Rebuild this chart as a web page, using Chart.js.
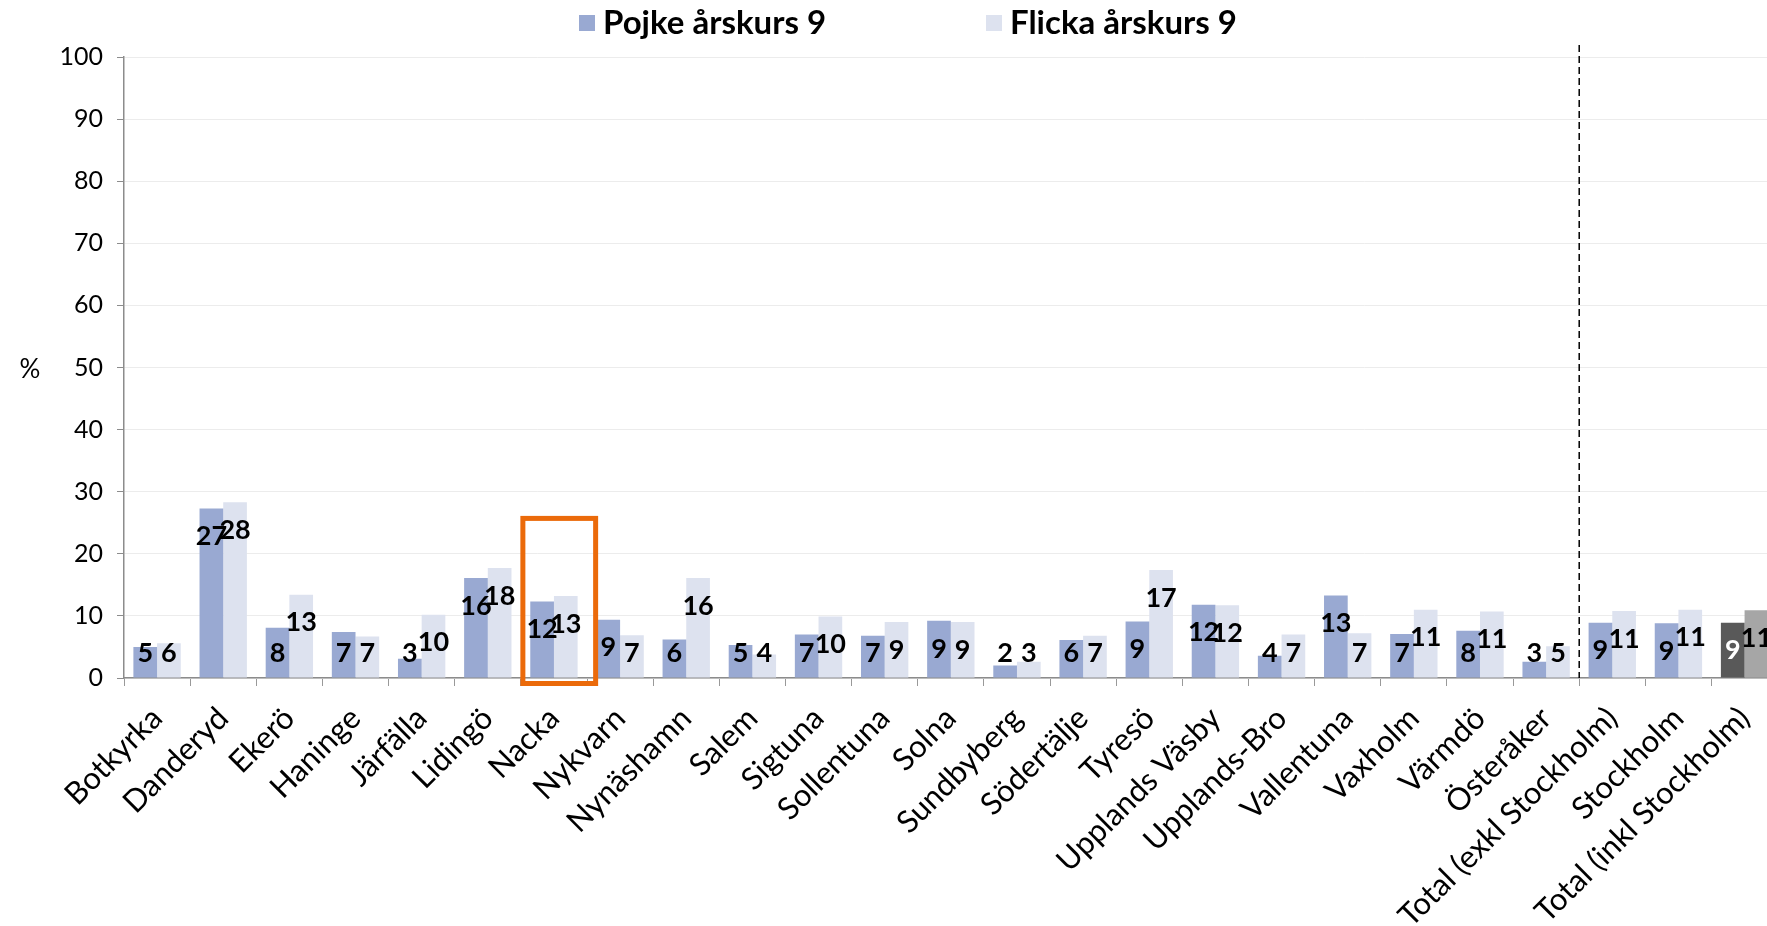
<!DOCTYPE html>
<html>
<head>
<meta charset="utf-8">
<script src="https://cdn.jsdelivr.net/npm/chart.js@4/dist/chart.umd.min.js"></script>
<style>
html, body { margin: 0; padding: 0; background: #fff; overflow: hidden; }
#wrap { position: relative; width: 1785px; height: 926px; }
</style>
</head>
<body>
<div id="wrap"><canvas id="chart" width="1785" height="926"></canvas></div>
<script>
// Andel (%) per kommun, årskurs 9
const categories = ['Botkyrka', 'Danderyd', 'Ekerö', 'Haninge', 'Järfälla', 'Lidingö', 'Nacka', 'Nykvarn',
    'Nynäshamn', 'Salem', 'Sigtuna', 'Sollentuna', 'Solna', 'Sundbyberg', 'Södertälje', 'Tyresö',
    'Upplands Väsby', 'Upplands-Bro', 'Vallentuna', 'Vaxholm', 'Värmdö', 'Österåker',
    'Total (exkl Stockholm)', 'Stockholm', 'Total (inkl Stockholm)'];
const pojke = [5.0, 27.3, 8.1, 7.4, 3.1, 16.1, 12.3, 9.4, 6.2, 5.3, 7.0, 6.8, 9.2, 2.0, 6.1, 9.1,
    11.8, 3.6, 13.3, 7.1, 7.6, 2.6, 8.9, 8.8, 8.9];
const flicka = [5.6, 28.3, 13.4, 6.7, 10.2, 17.7, 13.2, 6.9, 16.1, 3.8, 9.9, 9.0, 9.0, 2.6, 6.8, 17.4,
    11.7, 7.0, 7.2, 11.0, 10.7, 5.1, 10.8, 11.0, 10.9];
const seriesNames = ['Pojke årskurs 9', 'Flicka årskurs 9'];
const yTicks = [0, 10, 20, 30, 40, 50, 60, 70, 80, 90, 100];
const highlight = 'Nacka';
const splitAfter = 'Österåker';

const last = categories.length - 1;
const pojkeColors = categories.map((c, i) => i === last ? '#595959' : '#99A9D2');
const flickaColors = categories.map((c, i) => i === last ? '#A6A6A6' : '#DDE2EF');
const pojkeLabelColors = categories.map((c, i) => i === last ? '#fff' : '#000');

const overlay = {
    id: 'overlay',
    afterDatasetsDraw(chart) {
        const ctx = chart.ctx;
        const x = chart.scales.x, y = chart.scales.y;
        const area = chart.chartArea;
        const base = y.getPixelForValue(0);
        const catW = x.getPixelForValue(1) - x.getPixelForValue(0);

        // value labels
        ctx.save();
        ctx.font = 'bold 27px Lato';
        ctx.textAlign = 'center';
        ctx.textBaseline = 'middle';
        chart.data.datasets.forEach((ds, di) => {
            chart.getDatasetMeta(di).data.forEach((bar, i) => {
                const v = Math.round(ds.data[i]);
                const ly = Math.min(bar.y + 28, base - 25);
                ctx.fillStyle = ds.labelColors ? ds.labelColors[i] : '#000';
                ctx.fillText(String(v), bar.x, ly);
            });
        });

        // dashed separator before totals
        const si = categories.indexOf(splitAfter);
        const sx = (x.getPixelForValue(si) + x.getPixelForValue(si + 1)) / 2;
        ctx.strokeStyle = '#000';
        ctx.lineWidth = 1.5;
        ctx.setLineDash([7, 4]);
        ctx.beginPath();
        ctx.moveTo(sx, area.top - 12);
        ctx.lineTo(sx, base);
        ctx.stroke();
        ctx.setLineDash([]);

        // orange highlight box
        const hi = categories.indexOf(highlight);
        const left = x.getPixelForValue(hi) - catW / 2 + 2;
        ctx.strokeStyle = '#EB6A0A';
        ctx.lineWidth = 5;
        ctx.strokeRect(left, y.getPixelForValue(25.7), catW * 1.1, base + 5.5 - y.getPixelForValue(25.7));

        // y axis unit
        ctx.fillStyle = '#000';
        ctx.font = '26px Lato';
        ctx.textAlign = 'center';
        ctx.fillText('%', 30, y.getPixelForValue(50) + 2);

        // legend
        ctx.font = 'bold 33px Lato';
        ctx.textAlign = 'left';
        const items = [{ x: 579, color: '#99A9D2' }, { x: 986, color: '#DDE2EF' }];
        items.forEach((it, k) => {
            ctx.fillStyle = it.color;
            ctx.fillRect(it.x, 15, 16, 16);
            ctx.fillStyle = '#000';
            ctx.fillText(seriesNames[k], it.x + 24, 23);
        });
        ctx.restore();
    }
};

new Chart(document.getElementById('chart').getContext('2d'), {
    type: 'bar',
    data: {
        labels: categories,
        datasets: [{
            label: seriesNames[0],
            data: pojke,
            backgroundColor: pojkeColors,
            labelColors: pojkeLabelColors,
            borderWidth: 0
        }, {
            label: seriesNames[1],
            data: flicka,
            backgroundColor: flickaColors,
            borderWidth: 0
        }]
    },
    options: {
        responsive: false,
        animation: false,
        devicePixelRatio: 1,
        layout: { padding: { top: 57, right: 6, left: 0, bottom: 0 } },
        datasets: { bar: { barPercentage: 1, categoryPercentage: 0.716 } },
        plugins: { legend: { display: false }, tooltip: { enabled: false } },
        scales: {
            x: {
                grid: { display: true, drawOnChartArea: false, drawTicks: true, tickLength: 8, color: '#999', offset: true },
                border: { color: '#8c8c8c', width: 1.5 },
                ticks: { maxRotation: 45, minRotation: 45, autoSkip: false, padding: 14, color: '#000', font: { family: 'Lato', size: 31 } },
                afterFit(s) { s.height = 248; }
            },
            y: {
                min: yTicks[0],
                max: yTicks[yTicks.length - 1],
                afterBuildTicks(s) { s.ticks = yTicks.map(v => ({ value: v })); },
                ticks: { padding: 14, color: '#000', font: { family: 'Lato', size: 25 } },
                grid: { color: '#ececec', tickColor: '#8c8c8c', tickLength: 7 },
                border: { color: '#8c8c8c', width: 1.5 },
                afterFit(s) { s.width = 124; }
            }
        }
    },
    plugins: [overlay]
});
</script>
</body>
</html>
